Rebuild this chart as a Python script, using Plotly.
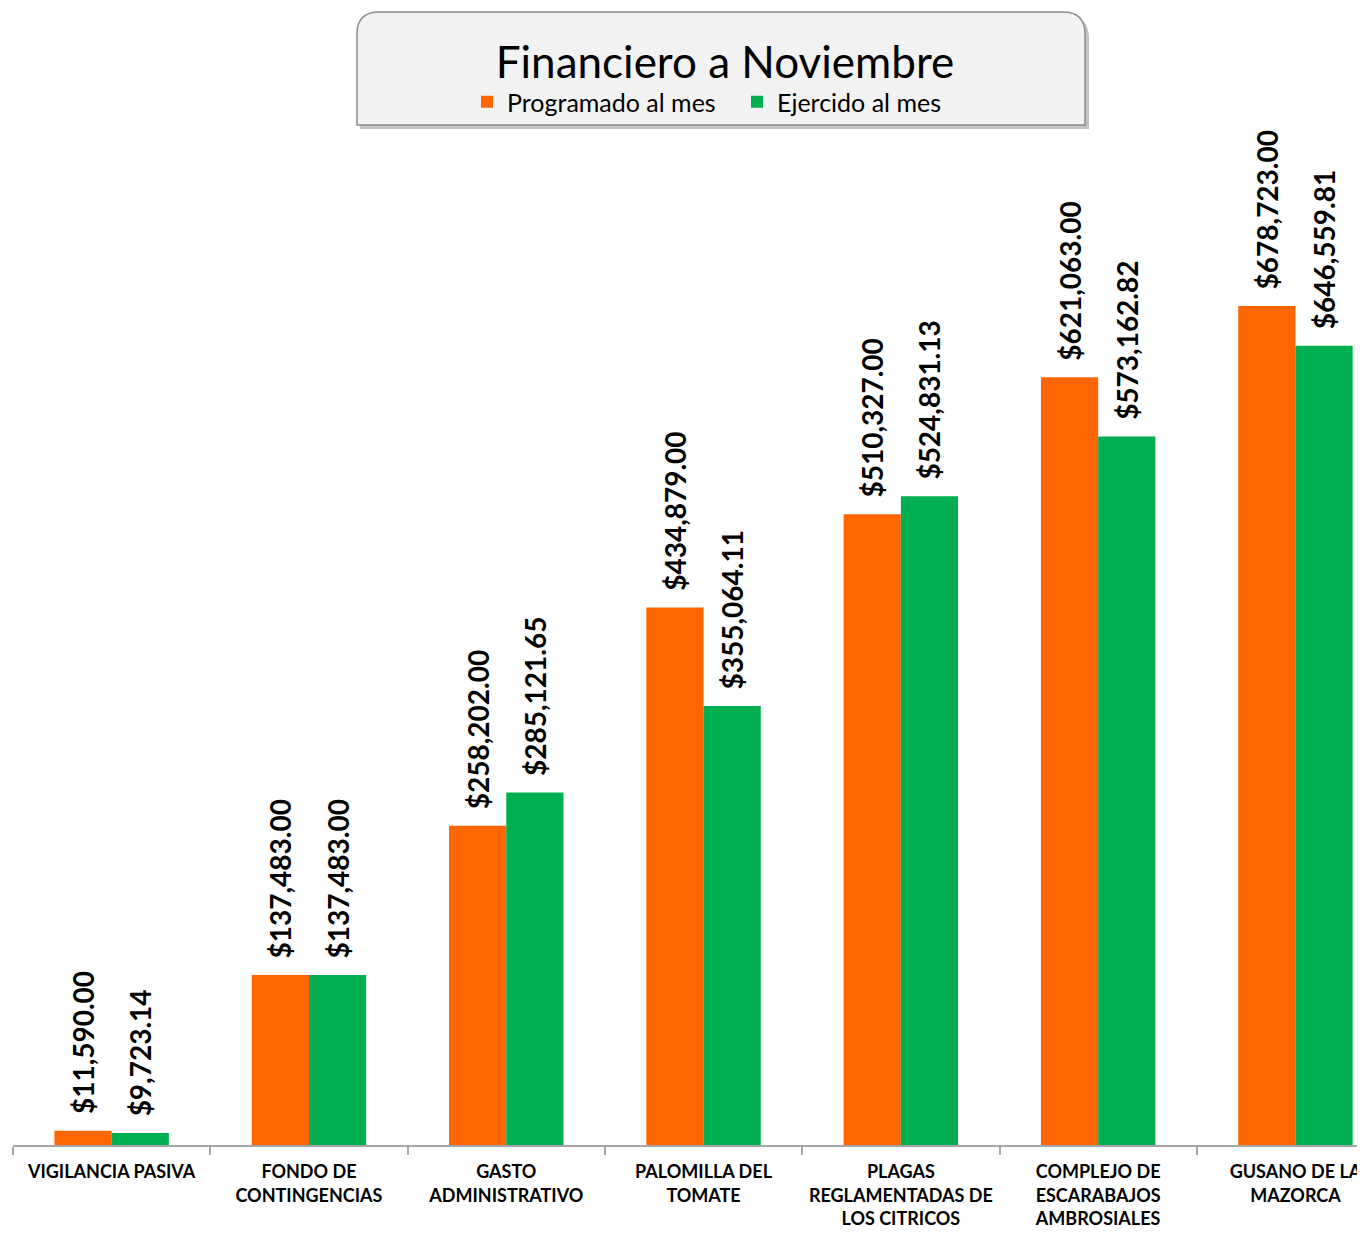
import plotly.graph_objects as go

categories = ["VIGILANCIA PASIVA", "FONDO DE<br>CONTINGENCIAS", "GASTO<br>ADMINISTRATIVO",
              "PALOMILLA DEL<br>TOMATE", "PLAGAS<br>REGLAMENTADAS DE<br>LOS CITRICOS",
              "COMPLEJO DE<br>ESCARABAJOS<br>AMBROSIALES", "GUSANO DE LA<br>MAZORCA"]
programado = [11590.00, 137483.00, 258202.00, 434879.00, 510327.00, 621063.00, 678723.00]
ejercido = [9723.14, 137483.00, 285121.65, 355064.11, 524831.13, 573162.82, 646559.81]

OFF = 8  # page body margin
PAGE_W, PAGE_H = 1365, 1234
W, H = PAGE_W - OFF, PAGE_H - OFF
# page-pixel geometry
AX_LEFT, AX_RIGHT, BASE_Y, TOP_Y = 13, 1365, 1145, 140
L = AX_LEFT - OFF
R = max(0, W + OFF - AX_RIGHT)
T = TOP_Y - OFF
B = H + OFF - BASE_Y
plot_w = W - L - R
plot_h = H - T - B
px_per_cat = 197.3
px_per_unit = 839 / 678723.0
x_max = -0.5 + plot_w / px_per_cat
y_max = plot_h / px_per_unit

def px_x(p):
    return (p - AX_LEFT) / plot_w

def px_y(p):
    return (BASE_Y - p) / plot_h

FONT = "Lato"
ORANGE = "#FF6600"
GREEN = "#00B050"

fig = go.Figure()
for name, vals, col in [("Programado al mes", programado, ORANGE),
                        ("Ejercido al mes", ejercido, GREEN)]:
    fig.add_trace(go.Bar(
        x=categories, y=vals, name=name, marker_color=col,
        marker_line_width=0,
        texttemplate="\u00a0\u00a0%{y:$,.2f}", textposition="outside",
        textangle=-90, constraintext="none", cliponaxis=False,
        textfont=dict(family=FONT, size=28, color="black", weight="bold"),
    ))

def rounded_top_rect(x0, y0, x1, y1, r):
    X = px_x
    Y = px_y
    return (f"M {X(x0)},{Y(y1)} L {X(x0)},{Y(y0 + r)} "
            f"Q {X(x0)},{Y(y0)} {X(x0 + r)},{Y(y0)} "
            f"L {X(x1 - r)},{Y(y0)} Q {X(x1)},{Y(y0)} {X(x1)},{Y(y0 + r)} "
            f"L {X(x1)},{Y(y1)} Z")

shapes = [
    dict(type="path", xref="paper", yref="paper", path=rounded_top_rect(360, 16, 1089, 129, 22),
         fillcolor="#9a9a9a", line=dict(width=0), layer="below", opacity=0.6),
    dict(type="path", xref="paper", yref="paper", path=rounded_top_rect(357, 12, 1085, 125, 22),
         fillcolor="#F2F2F2", line=dict(color="#8c8c8c", width=1.5), layer="below"),
]

fig.update_layout(
    width=W, height=H,
    margin=dict(l=L, r=R, t=T, b=B, autoexpand=False),
    paper_bgcolor="white", plot_bgcolor="white",
    barmode="group", bargap=0.42, bargroupgap=0,
    shapes=shapes,
    title=dict(text="Financiero a Noviembre", x=(725 - OFF) / W, xanchor="center",
               y=1 - (63 - OFF) / H, yanchor="middle", yref="container", xref="container",
               font=dict(family=FONT, size=44, color="black")),
    legend=dict(orientation="h", x=px_x(467), xanchor="left", y=px_y(102), yanchor="middle",
                bgcolor="rgba(0,0,0,0)", font=dict(family=FONT, size=25, color="black"),
                itemwidth=30, traceorder="normal", entrywidth=225),
    xaxis=dict(type="category", range=[-0.5, x_max], showline=True, linecolor="#a6a6a6", linewidth=1.5,
               ticks="outside", tickson="boundaries", ticklen=8, tickcolor="#a6a6a6", tickwidth=1.5,
               ticklabelstandoff=10,
               showgrid=False, zeroline=False,
               tickfont=dict(family=FONT, size=18, color="black", weight="bold")),
    yaxis=dict(range=[0, y_max], visible=False, showgrid=False, zeroline=False),
)

fig.write_html("out.html")
